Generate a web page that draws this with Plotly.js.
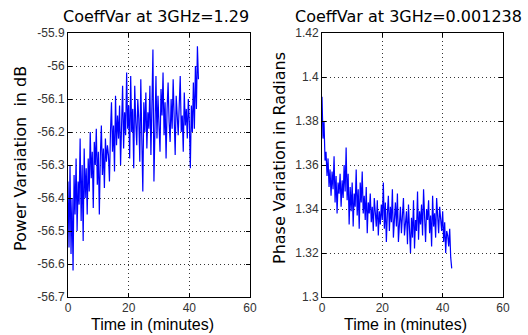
<!DOCTYPE html>
<html>
<head>
<meta charset="utf-8">
<script src="https://cdn.plot.ly/plotly-3.0.1.min.js"></script>
<style>html,body{margin:0;padding:0;background:#fff}#chart{width:528px;height:335px}</style>
</head>
<body>
<div id="chart"></div>
<script>
// Sample interval (minutes) between recorded points
const sampleStep = 1 / 3;

// Power variation (dB)
const powerDb = [
  -56.35,-56.55,-56.30,-56.57,-56.40,-56.62,-56.33,-56.45,-56.28,-56.50,
  -56.35,-56.42,-56.22,-56.47,-56.30,-56.53,-56.25,-56.40,-56.31,-56.45,
  -56.28,-56.38,-56.20,-56.34,-56.26,-56.43,-56.23,-56.30,-56.19,-56.36,
  -56.26,-56.45,-56.27,-56.18,-56.33,-56.25,-56.37,-56.22,-56.29,-56.24,
  -56.27,-56.35,-56.20,-56.11,-56.26,-56.18,-56.32,-56.09,-56.24,-56.15,
  -56.22,-56.12,-56.30,-56.17,-56.06,-56.25,-56.14,-56.21,-56.02,-56.19,
  -56.12,-56.28,-56.03,-56.20,-56.13,-56.31,-56.06,-56.17,-56.24,-56.10,
  -56.16,-56.29,-56.04,-56.22,-56.38,-56.11,-56.20,-56.08,-56.25,-56.14,
  -56.19,-56.06,-56.27,-56.12,-55.95,-56.35,-56.15,-56.03,-56.22,-56.09,
  -56.18,-56.26,-56.07,-56.15,-56.02,-56.21,-56.11,-56.28,-56.13,-56.05,
  -56.17,-56.23,-56.10,-56.19,-56.04,-56.14,-56.27,-56.09,-56.16,-56.21,
  -56.12,-56.03,-56.20,-56.15,-56.26,-56.08,-56.18,-56.13,-56.22,-56.10,
  -56.17,-56.31,-56.12,-56.20,-56.05,-56.19,-56.00,-56.13,-55.94,-56.04
];

// Phase variation (radians)
const phaseRad = [
  1.391,1.372,1.380,1.362,1.366,1.355,1.363,1.350,1.358,1.346,
  1.357,1.349,1.364,1.343,1.355,1.338,1.352,1.347,1.356,1.341,
  1.353,1.345,1.360,1.348,1.368,1.344,1.356,1.333,1.350,1.339,
  1.352,1.332,1.347,1.341,1.358,1.337,1.349,1.331,1.352,1.343,
  1.357,1.338,1.346,1.335,1.350,1.329,1.343,1.338,1.347,1.334,
  1.341,1.330,1.345,1.336,1.332,1.344,1.328,1.339,1.333,1.342,
  1.335,1.352,1.331,1.343,1.325,1.338,1.346,1.330,1.341,1.334,
  1.349,1.327,1.338,1.343,1.332,1.347,1.325,1.336,1.341,1.329,
  1.337,1.345,1.328,1.334,1.339,1.324,1.342,1.331,1.320,1.336,
  1.327,1.344,1.322,1.335,1.330,1.348,1.326,1.339,1.333,1.342,
  1.328,1.349,1.333,1.325,1.340,1.335,1.344,1.329,1.337,1.323,
  1.346,1.332,1.338,1.327,1.345,1.334,1.329,1.341,1.336,1.330,
  1.339,1.325,1.334,1.320,1.330,1.328,1.323,1.331,1.318,1.313
];

// Tick labels
const xTicks = [0, 20, 40, 60];
const xTickText = ["0", "20", "40", "60"];
const powerTicks = [-56.7, -56.6, -56.5, -56.4, -56.3, -56.2, -56.1, -56, -55.9];
const powerTickText = ["-56.7", "-56.6", "-56.5", "-56.4", "-56.3", "-56.2", "-56.1", "-56", "-55.9"];
const phaseTicks = [1.3, 1.32, 1.34, 1.36, 1.38, 1.4, 1.42];
const phaseTickText = ["1.3", "1.32", "1.34", "1.36", "1.38", "1.4", "1.42"];

// Text
const leftTitle = "CoeffVar at 3GHz=1.29";
const rightTitle = "CoeffVar at 3GHz=0.001238";
const xLabel = "Time in (minutes)";
const leftYLabel = "Power Varaiation&nbsp; in dB";
const rightYLabel = "Phase Variation in Radians";

const timeMin = powerDb.map((_, i) => i * sampleStep);
const timeMin2 = phaseRad.map((_, i) => i * sampleStep);

const W = 528, H = 335;
const tickFont = {family: "Liberation Sans, Arial, sans-serif", size: 12, color: "#333"};
const xLabelFont = {family: "Liberation Sans, Arial, sans-serif", size: 16, color: "#000"};
const yLabelFont = {family: "DejaVu Sans, Liberation Sans, sans-serif", size: 16, color: "#000"};
const titleFont = {family: "DejaVu Sans, Liberation Sans, sans-serif", size: 16, color: "#000"};

function xAxis(domain, anchor) {
  return {
    domain: domain, anchor: anchor, range: [0, 60],
    tickmode: "array", tickvals: xTicks, ticktext: xTickText,
    ticks: "inside", ticklen: 4, tickcolor: "#000",
    showline: true, linecolor: "#000", linewidth: 1, mirror: "ticks",
    showgrid: true, gridcolor: "#333", griddash: "1px,3px", gridwidth: 1,
    zeroline: false, tickfont: tickFont, fixedrange: true
  };
}
function yAxis(domain, anchor, range, vals, text) {
  return {
    domain: domain, anchor: anchor, range: range,
    tickmode: "array", tickvals: vals, ticktext: text,
    ticks: "inside", ticklen: 4, tickcolor: "#000",
    showline: true, linecolor: "#000", linewidth: 1, mirror: "ticks",
    showgrid: true, gridcolor: "#333", griddash: "1px,3px", gridwidth: 1,
    zeroline: false, tickfont: tickFont, fixedrange: true
  };
}

function label(text, px, py, font, angle) {
  return {text: text, x: px / W, y: 1 - py / H, xref: "paper", yref: "paper",
          xanchor: "center", yanchor: "middle", showarrow: false, font: font, textangle: angle || 0};
}

const yDom = [1 - 297 / H, 1 - 33 / H];
const data = [
  {x: timeMin, y: powerDb, type: "scatter", mode: "lines", xaxis: "x", yaxis: "y",
   line: {color: "#0000ff", width: 1.2}, hoverinfo: "skip"},
  {x: timeMin2, y: phaseRad, type: "scatter", mode: "lines", xaxis: "x2", yaxis: "y2",
   line: {color: "#0000ff", width: 1.2}, hoverinfo: "skip"}
];

const layout = {
  width: W, height: H,
  margin: {l: 0, r: 0, t: 0, b: 0},
  paper_bgcolor: "#fff", plot_bgcolor: "#fff",
  showlegend: false,
  xaxis: xAxis([68 / W, 250 / W], "y"),
  yaxis: yAxis(yDom, "x", [-56.7, -55.9], powerTicks, powerTickText),
  xaxis2: xAxis([322 / W, 503 / W], "y2"),
  yaxis2: yAxis(yDom, "x2", [1.3, 1.42], phaseTicks, phaseTickText),
  annotations: [
    label(leftTitle, 156, 17, titleFont),
    label(rightTitle, 408, 17, titleFont),
    label(xLabel, 152, 324, xLabelFont),
    label(xLabel, 405, 324, xLabelFont),
    label(leftYLabel, 20, 159, yLabelFont, -90),
    label(rightYLabel, 279, 158, yLabelFont, -90)
  ]
};

Plotly.newPlot("chart", data, layout, {staticPlot: true, displayModeBar: false});
</script>
</body>
</html>
